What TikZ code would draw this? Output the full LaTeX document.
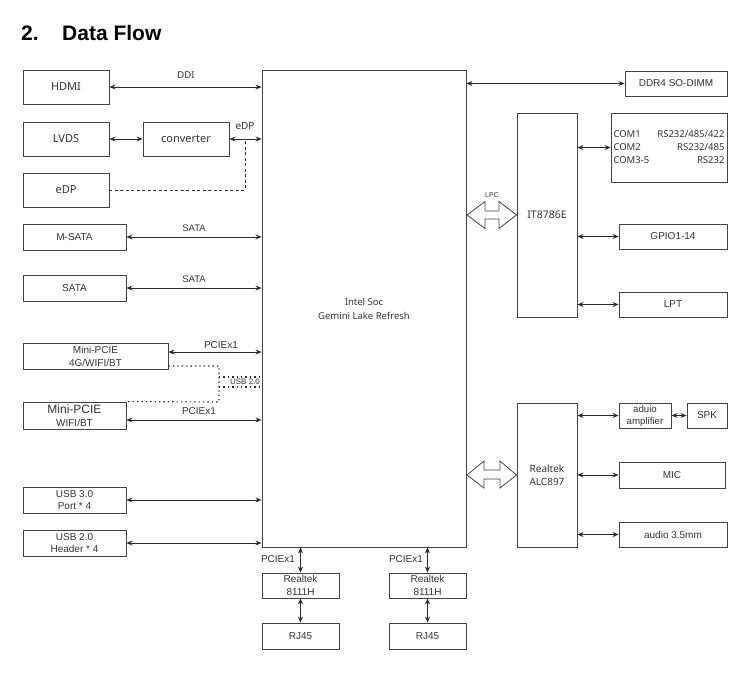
\documentclass[tikz,border=0pt]{standalone}
\usepackage{fontspec}
\setmainfont{Liberation Sans}
\newfontfamily\ngf{Noto Sans}
\usetikzlibrary{arrows.meta,calc}
\definecolor{ln}{HTML}{2B2B2B}
\definecolor{tx}{HTML}{333333}
\definecolor{bx}{HTML}{444444}
\begin{document}
\begin{tikzpicture}[x=1pt,y=-1pt,
  box/.style={draw=bx, line width=0.9pt, inner sep=0pt, text=tx, align=center,
    font=\fontsize{10}{12}\selectfont},
  ngbox/.style={box, font=\ngf\fontsize{11}{13}\selectfont},
  bi/.style={line width=0.9pt, draw=ln,
    {Stealth[length=6pt,width=5pt]}-{Stealth[length=6pt,width=5pt]}},
  lab/.style={text=tx, inner sep=0pt, font=\fontsize{9.5}{11}\selectfont},
  dsh/.style={draw=ln, line width=0.9pt, dash pattern=on 3pt off 2.5pt},
  dot/.style={draw=ln, line width=1.1pt, dash pattern=on 1.4pt off 3pt},
  fat/.style={draw=bx, line width=0.8pt, fill=white},
  ttlf/.style={anchor=base west, inner sep=0pt, font=\bfseries\fontsize{21}{24}\selectfont},
]
\useasboundingbox (0,0) rectangle (750,675);

% title
\node[ttlf] (tnum) at (21,40) {2.};
\node[ttlf] (ttl) at (62,40) {Data Flow};

% SoC
\node[box, minimum width=204pt, minimum height=477pt, font=\ngf\fontsize{9.5}{14}\selectfont] (soc) at (364,308.5) {Intel Soc\\Gemini Lake Refresh};

% left column
\node[ngbox, minimum width=86pt, minimum height=34pt] (hdmi) at (66,87) {HDMI};
\node[ngbox, minimum width=86pt, minimum height=34pt] (lvds) at (66,139) {LVDS};
\node[ngbox, minimum width=86pt, minimum height=34pt] (conv) at (186,139) {converter};
\node[ngbox, minimum width=86pt, minimum height=34pt] (edp) at (66,190) {eDP};
\node[box, minimum width=103pt, minimum height=26pt] (msata) at (74.5,237) {M-SATA};
\node[box, minimum width=103pt, minimum height=26pt] (sata) at (74.5,288) {SATA};
\node[box, minimum width=145pt, minimum height=26pt, font=\fontsize{10}{13}\selectfont] (mp1) at (95.5,356) {Mini-PCIE\\4G/WIFI/BT};
\node[box, minimum width=103pt, minimum height=27pt, font=\fontsize{10}{13}\selectfont] (mp2) at (74.5,415.5) {{\fontsize{12}{13}\selectfont Mini-PCIE}\\WIFI/BT};
\node[box, minimum width=103pt, minimum height=26pt, font=\fontsize{10}{12.5}\selectfont] (usb3) at (74.5,500) {USB 3.0\\Port * 4};
\node[box, minimum width=103pt, minimum height=26pt, font=\fontsize{10}{12.5}\selectfont] (usb2) at (74.5,543) {USB 2.0\\Header * 4};

% bottom
\node[box, minimum width=77pt, minimum height=25pt, font=\fontsize{10}{12.5}\selectfont] (rtl1) at (300.5,585.5) {Realtek\\8111H};
\node[box, minimum width=77pt, minimum height=26pt] (rj1) at (300.5,636) {RJ45};
\node[box, minimum width=77pt, minimum height=25pt, font=\fontsize{10}{12.5}\selectfont] (rtl2) at (427.5,585.5) {Realtek\\8111H};
\node[box, minimum width=77pt, minimum height=26pt] (rj2) at (427.5,636) {RJ45};

% right
\node[box, minimum width=102pt, minimum height=25pt] (ddr) at (676,83.5) {DDR4 SO-DIMM};
\node[box, minimum width=60pt, minimum height=204pt, font=\ngf\fontsize{10.5}{13}\selectfont] (it) at (547,215) {IT8786E};
\node[box, minimum width=116pt, minimum height=69pt, font=\ngf\fontsize{9.5}{13}\selectfont] (com) at (669,147.5)
  {\begin{tabular*}{111pt}{@{}l@{\extracolsep{\fill}}r@{}}COM1&RS232/485/422\\COM2&RS232/485\\COM3-5&RS232\end{tabular*}};
\node[box, minimum width=108pt, minimum height=25pt] (gpio) at (673,236.5) {GPIO1-14};
\node[box, minimum width=108pt, minimum height=25pt] (lpt) at (673,304.5) {LPT};
\node[box, minimum width=60pt, minimum height=144pt, font=\ngf\fontsize{10}{13}\selectfont] (alc) at (547,475) {Realtek\\ALC897};
\node[box, minimum width=52pt, minimum height=25pt, font=\fontsize{9.7}{12}\selectfont] (amp) at (645,415.5) {aduio\\amplifier};
\node[box, minimum width=40pt, minimum height=25pt] (spk) at (707,415.5) {SPK};
\node[box, minimum width=106pt, minimum height=26pt] (mic) at (672,475) {MIC};
\node[box, minimum width=108pt, minimum height=25pt] (a35) at (673,534.5) {audio 3.5mm};

% left connectors
\draw[bi] (hdmi.east) -- (hdmi.east -| soc.west);
\node[lab, font=\ngf\fontsize{9.5}{11}\selectfont] (lddi) at (186,75) {DDI};
\draw[bi] (lvds.east) -- (conv.west);
\draw[bi] (conv.east) -- (conv.east -| soc.west);
\node[lab, font=\ngf\fontsize{10}{11}\selectfont] (ledp) at (245,126) {eDP};
\coordinate (edpj) at (245,139);
\draw[dsh] (edp.east) -| (edpj);
\draw[bi] (msata.east) -- (msata.east -| soc.west);
\node[lab] (ls1) at (194,228) {SATA};
\draw[bi] (sata.east) -- (sata.east -| soc.west);
\node[lab] (ls2) at (194,279) {SATA};
\coordinate (p1) at ($(mp1.east)+(0,-4)$);
\draw[bi] (p1) -- (p1 -| soc.west);
\node[lab, font=\fontsize{10}{11}\selectfont] (lp1) at (221,345) {PCIEx1};
\coordinate (p2) at ($(mp2.east)+(0,4.5)$);
\draw[bi] (p2) -- (p2 -| soc.west);
\node[lab, font=\fontsize{10}{11}\selectfont] (lp2) at (199,411) {PCIEx1};
% USB 2.0 dotted
\coordinate (ud) at (219,402);
\coordinate (ua) at (219,377);
\coordinate (ub) at (219,387);
\draw[dot] ($(mp1.east)+(0,10)$) -| (ud) -- (mp2.north east);
\draw[dot] (ua) -- (ua -| soc.west);
\draw[dot] (ub) -- (ub -| soc.west);
\node[lab, font=\fontsize{8}{9}\selectfont] (lusb) at (245,382) {USB 2.0};
\draw[bi] (usb3.east) -- (usb3.east -| soc.west);
\draw[bi] (usb2.east) -- (usb2.east -| soc.west);

% bottom connectors
\draw[bi] (rtl1.north |- soc.south) -- (rtl1.north);
\draw[bi] (rtl1.south) -- (rj1.north);
\draw[bi] (rtl2.north |- soc.south) -- (rtl2.north);
\draw[bi] (rtl2.south) -- (rj2.north);
\node[lab, font=\fontsize{10}{11}\selectfont] (lpb1) at (278,559) {PCIEx1};
\node[lab, font=\fontsize{10}{11}\selectfont] (lpb2) at (406,559) {PCIEx1};

% right connectors
\draw[bi] (ddr.west -| soc.east) -- (ddr.west);
\draw[bi] (com.west -| it.east) -- (com.west);
\draw[bi] (gpio.west -| it.east) -- (gpio.west);
\draw[bi] (lpt.west -| it.east) -- (lpt.west);
\draw[bi] (amp.west -| alc.east) -- (amp.west);
\draw[bi] (amp.east) -- (spk.west);
\draw[bi] (mic.west -| alc.east) -- (mic.west);
\draw[bi] (a35.west -| alc.east) -- (a35.west);

% fat double arrows
\draw[fat] (467,215) -- (485,201.5) -- (485,211) -- (499,211) -- (499,201.5) -- (516.5,215)
  -- (499,228.5) -- (499,219) -- (485,219) -- (485,228.5) -- cycle;
\node[lab, font=\fontsize{7}{8}\selectfont] (llpc) at (492,195) {LPC};
\draw[fat] (467,475) -- (484,461) -- (484,470) -- (500,470) -- (500,461) -- (516.5,475)
  -- (500,488) -- (500,479) -- (484,479) -- (484,488) -- cycle;
\end{tikzpicture}
\end{document}
